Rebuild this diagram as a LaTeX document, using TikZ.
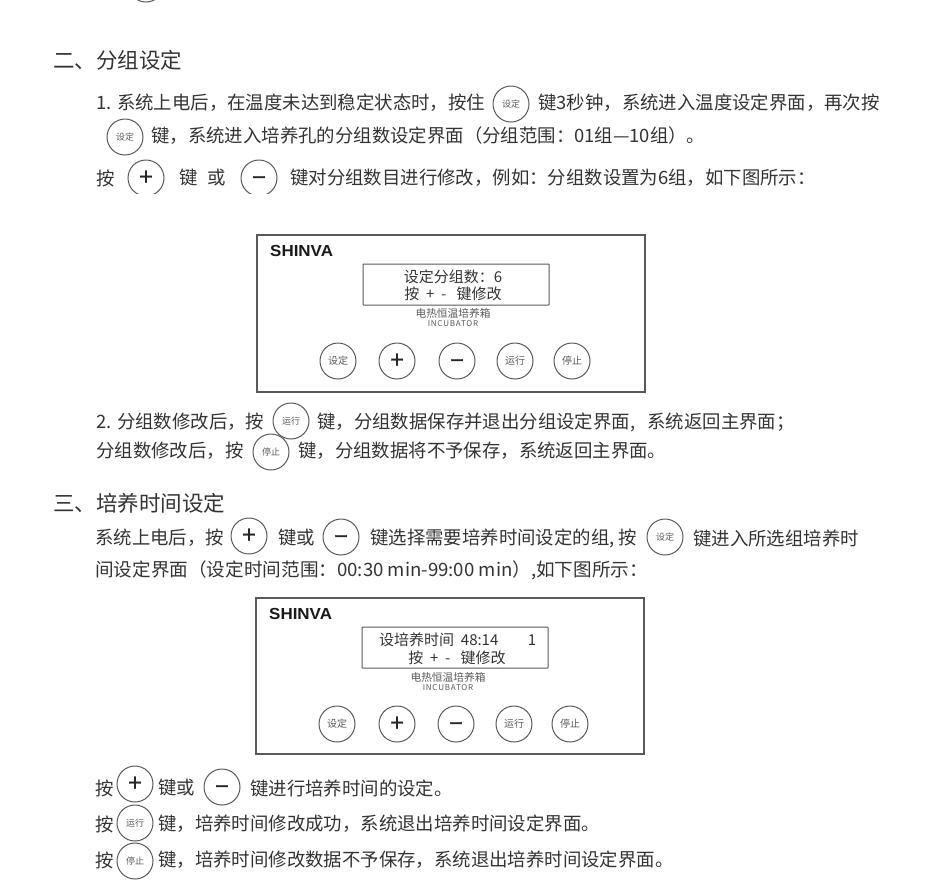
\documentclass[tikz,border=0pt]{standalone}
\usepackage{fontspec}
\setmainfont{Noto Sans CJK SC}
\newfontfamily\logofont{Liberation Sans}
\definecolor{inkgray}{gray}{0.2}
\definecolor{rimgray}{gray}{0.35}
\newcommand{\minuskey}{\raisebox{-8pt}[0pt][0pt]{−}}
\tikzset{
  bodytext/.style={anchor=west,inner sep=0pt,text=inkgray,font=\fontsize{18.4}{18}\selectfont},
  headtext/.style={anchor=west,inner sep=0pt,text=inkgray,font=\fontsize{21.5}{22}\selectfont},
  lcdtext/.style={inner sep=0pt,text=inkgray,font=\fontsize{15}{15}\selectfont},
  paneltext/.style={inner sep=0pt,text=rimgray,font=\fontsize{10.7}{11}\selectfont},
  subtext/.style={inner sep=0pt,text=rimgray,font=\addfontfeature{LetterSpace=10}\fontsize{8}{8}\selectfont},
  logotext/.style={anchor=west,inner sep=0pt,xscale=1.06,text=black!90,font=\logofont\bfseries\fontsize{16}{16}\selectfont},
  keybig/.style={circle,draw=rimgray,line width=1pt,minimum size=36pt,inner sep=0pt,text=black!85,font=\addfontfeature{FakeBold=0.8}\fontsize{24}{24}\selectfont},
  keysmall/.style={circle,draw=rimgray,line width=1pt,minimum size=36pt,inner sep=0pt,text=rimgray,font=\fontsize{9}{9}\selectfont},
  keypanel/.style={keysmall,font=\fontsize{10}{10}\selectfont},
  panelbox/.style={draw=rimgray,line width=1.1pt},
  lcdbox/.style={draw=rimgray,line width=1pt,rounded corners=0.5pt},
}
\begin{document}
\begin{tikzpicture}[x=1pt,y=-1pt]
\useasboundingbox (0,0) rectangle (950,895);
\clip (0,0) rectangle (950,895);
% stray key at the page top
\node[keysmall] (keytop) at (146,-16) {};
% section two
\node[headtext] (headtwo) at (53,60) {二、分组设定};
\node[bodytext] (lineAa) at (96,103) {1. 系统上电后，在温度未达到稳定状态时，按住};
\node[keysmall] (keyAa) at (511,104) {设定};
\node[bodytext] (lineAb) at (538,103) {键3秒钟，系统进入温度设定界面，再次按};
\node[keysmall] (keyBa) at (125,137) {设定};
\node[bodytext] (lineBa) at (151,136) {键，系统进入培养孔的分组数设定界面（分组范围：01组—10组）。};
\node[bodytext] (lineCa) at (96,178) {按};
\node[keybig] (keyCa) at (146,178) {+};
\node[bodytext] (lineCb) at (179,178) {键};
\node[bodytext] (lineCc) at (207,178) {或};
\node[keybig] (keyCb) at (259,178) {\minuskey};
\node[bodytext] (lineCd) at (290,178) {键对分组数目进行修改，例如：分组数设置为6组，如下图所示：};
\fill[white] (120,193.5) rectangle (285,205);
% first panel
\draw[panelbox] (257,235) rectangle (645,392);
\node[logotext] (logoA) at (270,251) {SHINVA};
\draw[lcdbox] (363,264) rectangle (549,305);
\node[lcdtext] (lcdAa) at (453,277) {设定分组数：6};
\node[lcdtext] (lcdAb) at (453,294) {按~~+~~-~~~键修改};
\node[paneltext] (nameA) at (453,313) {电热恒温培养箱};
\node[subtext] (subA) at (453,324) {INCUBATOR};
\node[keypanel] (keyDa) at (338,361) {设定};
\node[keybig] (keyDb) at (397,361) {+};
\node[keybig] (keyDc) at (457,361) {\minuskey};
\node[keypanel] (keyDd) at (515,361) {运行};
\node[keypanel] (keyDe) at (572,361) {停止};
% after first panel
\node[bodytext] (lineEa) at (96,422) {2. 分组数修改后，按};
\node[keysmall] (keyEa) at (291,421) {运行};
\node[bodytext] (lineEb) at (317,422) {键，分组数据保存并退出分组设定界面,~~~系统返回主界面；};
\node[bodytext] (lineFa) at (96,451) {分组数修改后，按};
\node[keysmall] (keyFa) at (271,452) {停止};
\node[bodytext] (lineFb) at (298,451) {键，分组数据将不予保存，系统返回主界面。};
% section three
\node[headtext] (headthree) at (53,503) {三、培养时间设定};
\node[bodytext] (lineGa) at (95,538) {系统上电后，按};
\node[keybig] (keyGa) at (249,536) {+};
\node[bodytext] (lineGb) at (278,538) {键或};
\node[keybig] (keyGb) at (341,537) {\minuskey};
\node[bodytext] (lineGc) at (370,538) {键选择需要培养时间设定的组,~按};
\node[keysmall] (keyGc) at (665,537) {设定};
\node[bodytext] (lineGd) at (693,538) {键进入所选组培养时};
\node[bodytext,xscale=1.012] (lineHa) at (95,570) {间设定界面（设定时间范围：00:30 min-99:00 min）,如下图所示：};
% second panel
\draw[panelbox] (256,598) rectangle (644,754);
\node[logotext] (logoB) at (269,614) {SHINVA};
\draw[lcdbox] (362,627) rectangle (548,668);
\node[lcdtext,anchor=west] (lcdBa) at (379,640) {设培养时间~~48:14};
\node[lcdtext] (lcdBc) at (532,640) {1};
\node[lcdtext] (lcdBb) at (457,658) {按~~+~~-~~~键修改};
\node[paneltext] (nameB) at (448,677) {电热恒温培养箱};
\node[subtext] (subB) at (448,688) {INCUBATOR};
\node[keypanel] (keyJa) at (337,724) {设定};
\node[keybig] (keyJb) at (397,724) {+};
\node[keybig] (keyJc) at (456,724) {\minuskey};
\node[keypanel] (keyJd) at (514,724) {运行};
\node[keypanel] (keyJe) at (570,724) {停止};
% closing lines
\node[bodytext] (lineKa) at (95,788) {按};
\node[keybig] (keyKa) at (135,784) {+};
\node[bodytext] (lineKb) at (158,788) {键或};
\node[keybig] (keyKb) at (222,787) {\minuskey};
\node[bodytext] (lineKc) at (250,788) {键进行培养时间的设定。};
\node[bodytext] (lineLa) at (95,824) {按};
\node[keysmall] (keyLa) at (135,823) {运行};
\node[bodytext] (lineLb) at (158,824) {键，培养时间修改成功，系统退出培养时间设定界面。};
\node[bodytext] (lineMa) at (95,860) {按};
\node[keysmall] (keyMa) at (135,861) {停止};
\node[bodytext] (lineMb) at (158,860) {键，培养时间修改数据不予保存，系统退出培养时间设定界面。};
\end{tikzpicture}
\end{document}
